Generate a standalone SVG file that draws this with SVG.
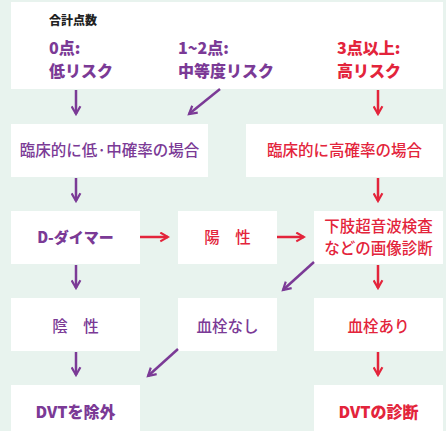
<svg xmlns="http://www.w3.org/2000/svg" width="446" height="431" viewBox="0 0 446 431">
<defs>
<marker id="hp" viewBox="0 0 10 10" refX="8" refY="5" markerWidth="4.4" markerHeight="4.4" orient="auto" markerUnits="strokeWidth"><path d="M1,1 L8,5 L1,9" fill="none" stroke="#7b3a96" stroke-width="2"/></marker>
<marker id="hr" viewBox="0 0 10 10" refX="8" refY="5" markerWidth="4.4" markerHeight="4.4" orient="auto" markerUnits="strokeWidth"><path d="M1,1 L8,5 L1,9" fill="none" stroke="#e3243b" stroke-width="2"/></marker>
</defs>
<style>
.box{fill:#ffffff}
text{font-family:"Noto Sans CJK JP","Noto Sans",sans-serif}
.p{fill:#7b3a96}
.r{fill:#e3243b}
.b{font-weight:900}
.m{font-weight:500;font-size:15.5px}
.h{font-size:16px;font-weight:900}
.ap{stroke:#7b3a96;stroke-width:2.5;fill:none;marker-end:url(#hp)}
.ar{stroke:#e3243b;stroke-width:2.5;fill:none;marker-end:url(#hr)}
</style>
<rect width="446" height="431" fill="#e8f3ee"/>
<g id="score">
<rect class="box" x="11" y="2" width="432" height="87"/>
<text x="49" y="25" font-size="12" font-weight="900" fill="#222">合計点数</text>
<text class="p h" x="49" y="54">0点:</text>
<text class="p h" x="49" y="77">低リスク</text>
<text class="p h" x="178" y="54">1~2点:</text>
<text class="p h" x="178" y="77">中等度リスク</text>
<text class="r h" x="337" y="54">3点以上:</text>
<text class="r h" x="337" y="77">高リスク</text>
</g>
<g id="lowmid">
<rect class="box" x="11" y="124" width="197" height="53"/>
<text class="p m" x="109.5" y="156" text-anchor="middle">臨床的に低·中確率の場合</text>
</g>
<g id="high">
<rect class="box" x="246" y="124" width="197" height="53"/>
<text class="r m" x="344.5" y="156" text-anchor="middle">臨床的に高確率の場合</text>
</g>
<g id="ddimer">
<rect class="box" x="11" y="211" width="129" height="53"/>
<text class="p b" font-size="15" x="75.5" y="243" text-anchor="middle">D-ダイマー</text>
</g>
<g id="positive">
<rect class="box" x="178" y="211" width="99" height="53"/>
<text class="r m" x="227.5" y="243" text-anchor="middle">陽　性</text>
</g>
<g id="imaging">
<rect class="box" x="314" y="211" width="129" height="53"/>
<text class="r m" font-size="16" x="378.5" y="232" text-anchor="middle">下肢超音波検査</text>
<text class="r m" font-size="16" x="378.5" y="254" text-anchor="middle">などの画像診断</text>
</g>
<g id="negative">
<rect class="box" x="11" y="298" width="129" height="53"/>
<text class="p m" x="75.5" y="332" text-anchor="middle">陰　性</text>
</g>
<g id="nothrombus">
<rect class="box" x="178" y="298" width="99" height="53"/>
<text class="p m" x="227.5" y="332" text-anchor="middle">血栓なし</text>
</g>
<g id="thrombus">
<rect class="box" x="314" y="298" width="129" height="53"/>
<text class="r m" x="378.5" y="332" text-anchor="middle">血栓あり</text>
</g>
<g id="exclude">
<rect class="box" x="11" y="385" width="129" height="50"/>
<text class="p b" font-size="16" x="75.5" y="418" text-anchor="middle">DVTを除外</text>
</g>
<g id="diagnosis">
<rect class="box" x="314" y="385" width="129" height="50"/>
<text class="r b" font-size="16" x="378.5" y="418" text-anchor="middle">DVTの診断</text>
</g>
<g id="connectors">
<line class="ap" x1="76" y1="90" x2="76" y2="114"/>
<line class="ap" x1="220" y1="89" x2="189" y2="114"/>
<line class="ar" x1="378" y1="90" x2="378" y2="114"/>
<line class="ap" x1="76" y1="178" x2="76" y2="201"/>
<line class="ar" x1="378" y1="178" x2="378" y2="201"/>
<line class="ar" x1="140" y1="237" x2="168" y2="237"/>
<line class="ar" x1="277" y1="237" x2="304" y2="237"/>
<line class="ap" x1="76" y1="265" x2="76" y2="288"/>
<line class="ap" x1="314" y1="262" x2="283" y2="290"/>
<line class="ar" x1="378" y1="265" x2="378" y2="288"/>
<line class="ap" x1="76" y1="352" x2="76" y2="375"/>
<line class="ap" x1="178" y1="349" x2="148" y2="376"/>
<line class="ar" x1="378" y1="352" x2="378" y2="375"/>
</g>
</svg>
